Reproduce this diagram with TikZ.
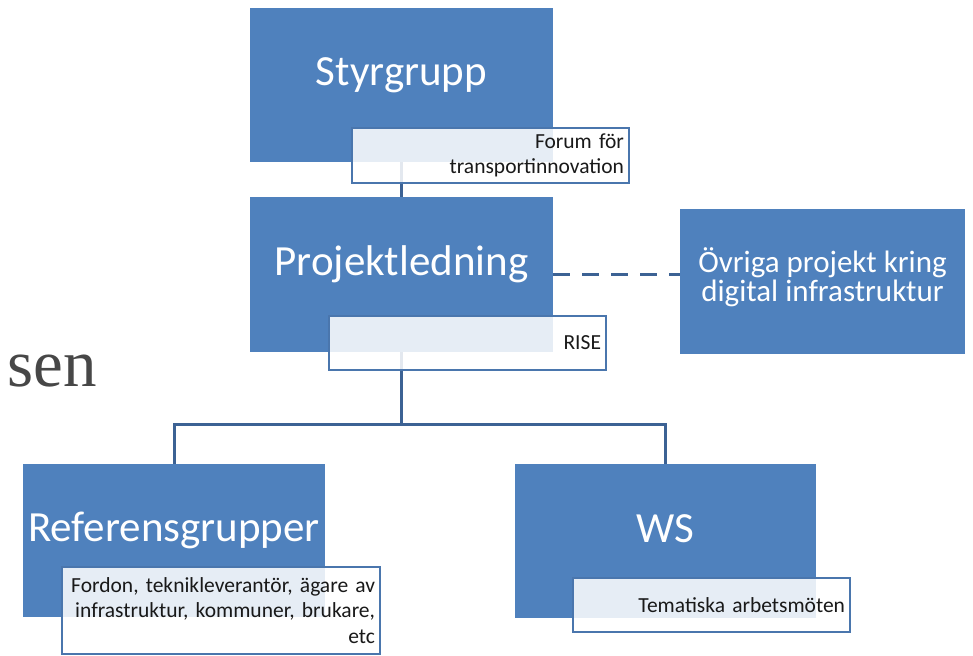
\documentclass[tikz,border=0pt]{standalone}
\usepackage{fontspec}
\setmainfont{Carlito}
\newfontfamily\serifsen{Liberation Serif}
\usepackage{tikz}
\usetikzlibrary{positioning,calc}
\definecolor{boxblue}{HTML}{4F81BD}
\definecolor{lineblue}{HTML}{3C6294}
\definecolor{lblblue}{HTML}{4A76AD}
\hyphenpenalty=10000

\begin{document}
\begin{tikzpicture}[
  x=1pt,y=-1pt,
  box/.style={fill=boxblue,text=white,inner sep=0pt,align=center},
  big/.style={font=\fontsize{43}{48}\selectfont,text height=29pt,text depth=27pt},
  lbl/.style={draw=lblblue,line width=1.5pt,fill=white,fill opacity=0.86,text opacity=1,
    text=black!90,align=right,font=\fontsize{21.5}{25.5}\selectfont,
    inner xsep=5pt,inner ysep=0pt,minimum height=54pt},
  conn/.style={draw=lineblue,line width=3pt},
  sentxt/.style={text=black!72,font=\serifsen\fontsize{67}{72}\selectfont,inner sep=0pt}]
\useasboundingbox (0,0) rectangle (973,655);
% word cut at the left edge
\node[sentxt,anchor=base east] (sen) at (97,386) {sen};
% top boxes
\node[box,big,minimum width=303pt,minimum height=154pt] (sg) at (401.5,85) {Styrgrupp};
\node[box,big,minimum width=303pt,minimum height=155pt] (pl) at (401.5,274.5) {Projektledning};
\node[box,font=\fontsize{31}{29}\selectfont,text depth=14pt,minimum width=285pt,minimum height=145pt] (ov)
  at (822.5,281.5) {Övriga projekt kring\\digital infrastruktur};
% bottom boxes
\node[box,big,minimum width=302pt,minimum height=153pt] (rg) at (174,540.5) {Referensgrupper};
\node[box,big,minimum width=301pt,minimum height=154pt] (ws) at (665.5,541) {WS};
% connectors
\coordinate (bus) at (401.5,424);
\draw[conn] (sg.south) -- (pl.north);
\draw[conn] (pl.south) -- (bus) -| (rg.north);
\draw[conn] (bus) -| (ws.north);
\draw[conn,dash pattern=on 17pt off 12pt] (pl.east) -- (pl.east -| ov.west);
% labels
\node[lbl,text width=267pt,minimum height=55pt] (sgl) at (490.5,155.5) {Forum för\\transportinnovation};
\node[lbl,text width=267pt] (pll) at (467.5,343) {RISE};
\node[lbl,text width=308pt,minimum height=87pt] (rgl) at (221,610.5)
  {Fordon, teknikleverantör, ägare av\\infrastruktur, kommuner, brukare,\\etc};
\node[lbl,text width=267pt] (wsl) at (711.5,605) {Tematiska arbetsmöten};
\end{tikzpicture}
\end{document}
